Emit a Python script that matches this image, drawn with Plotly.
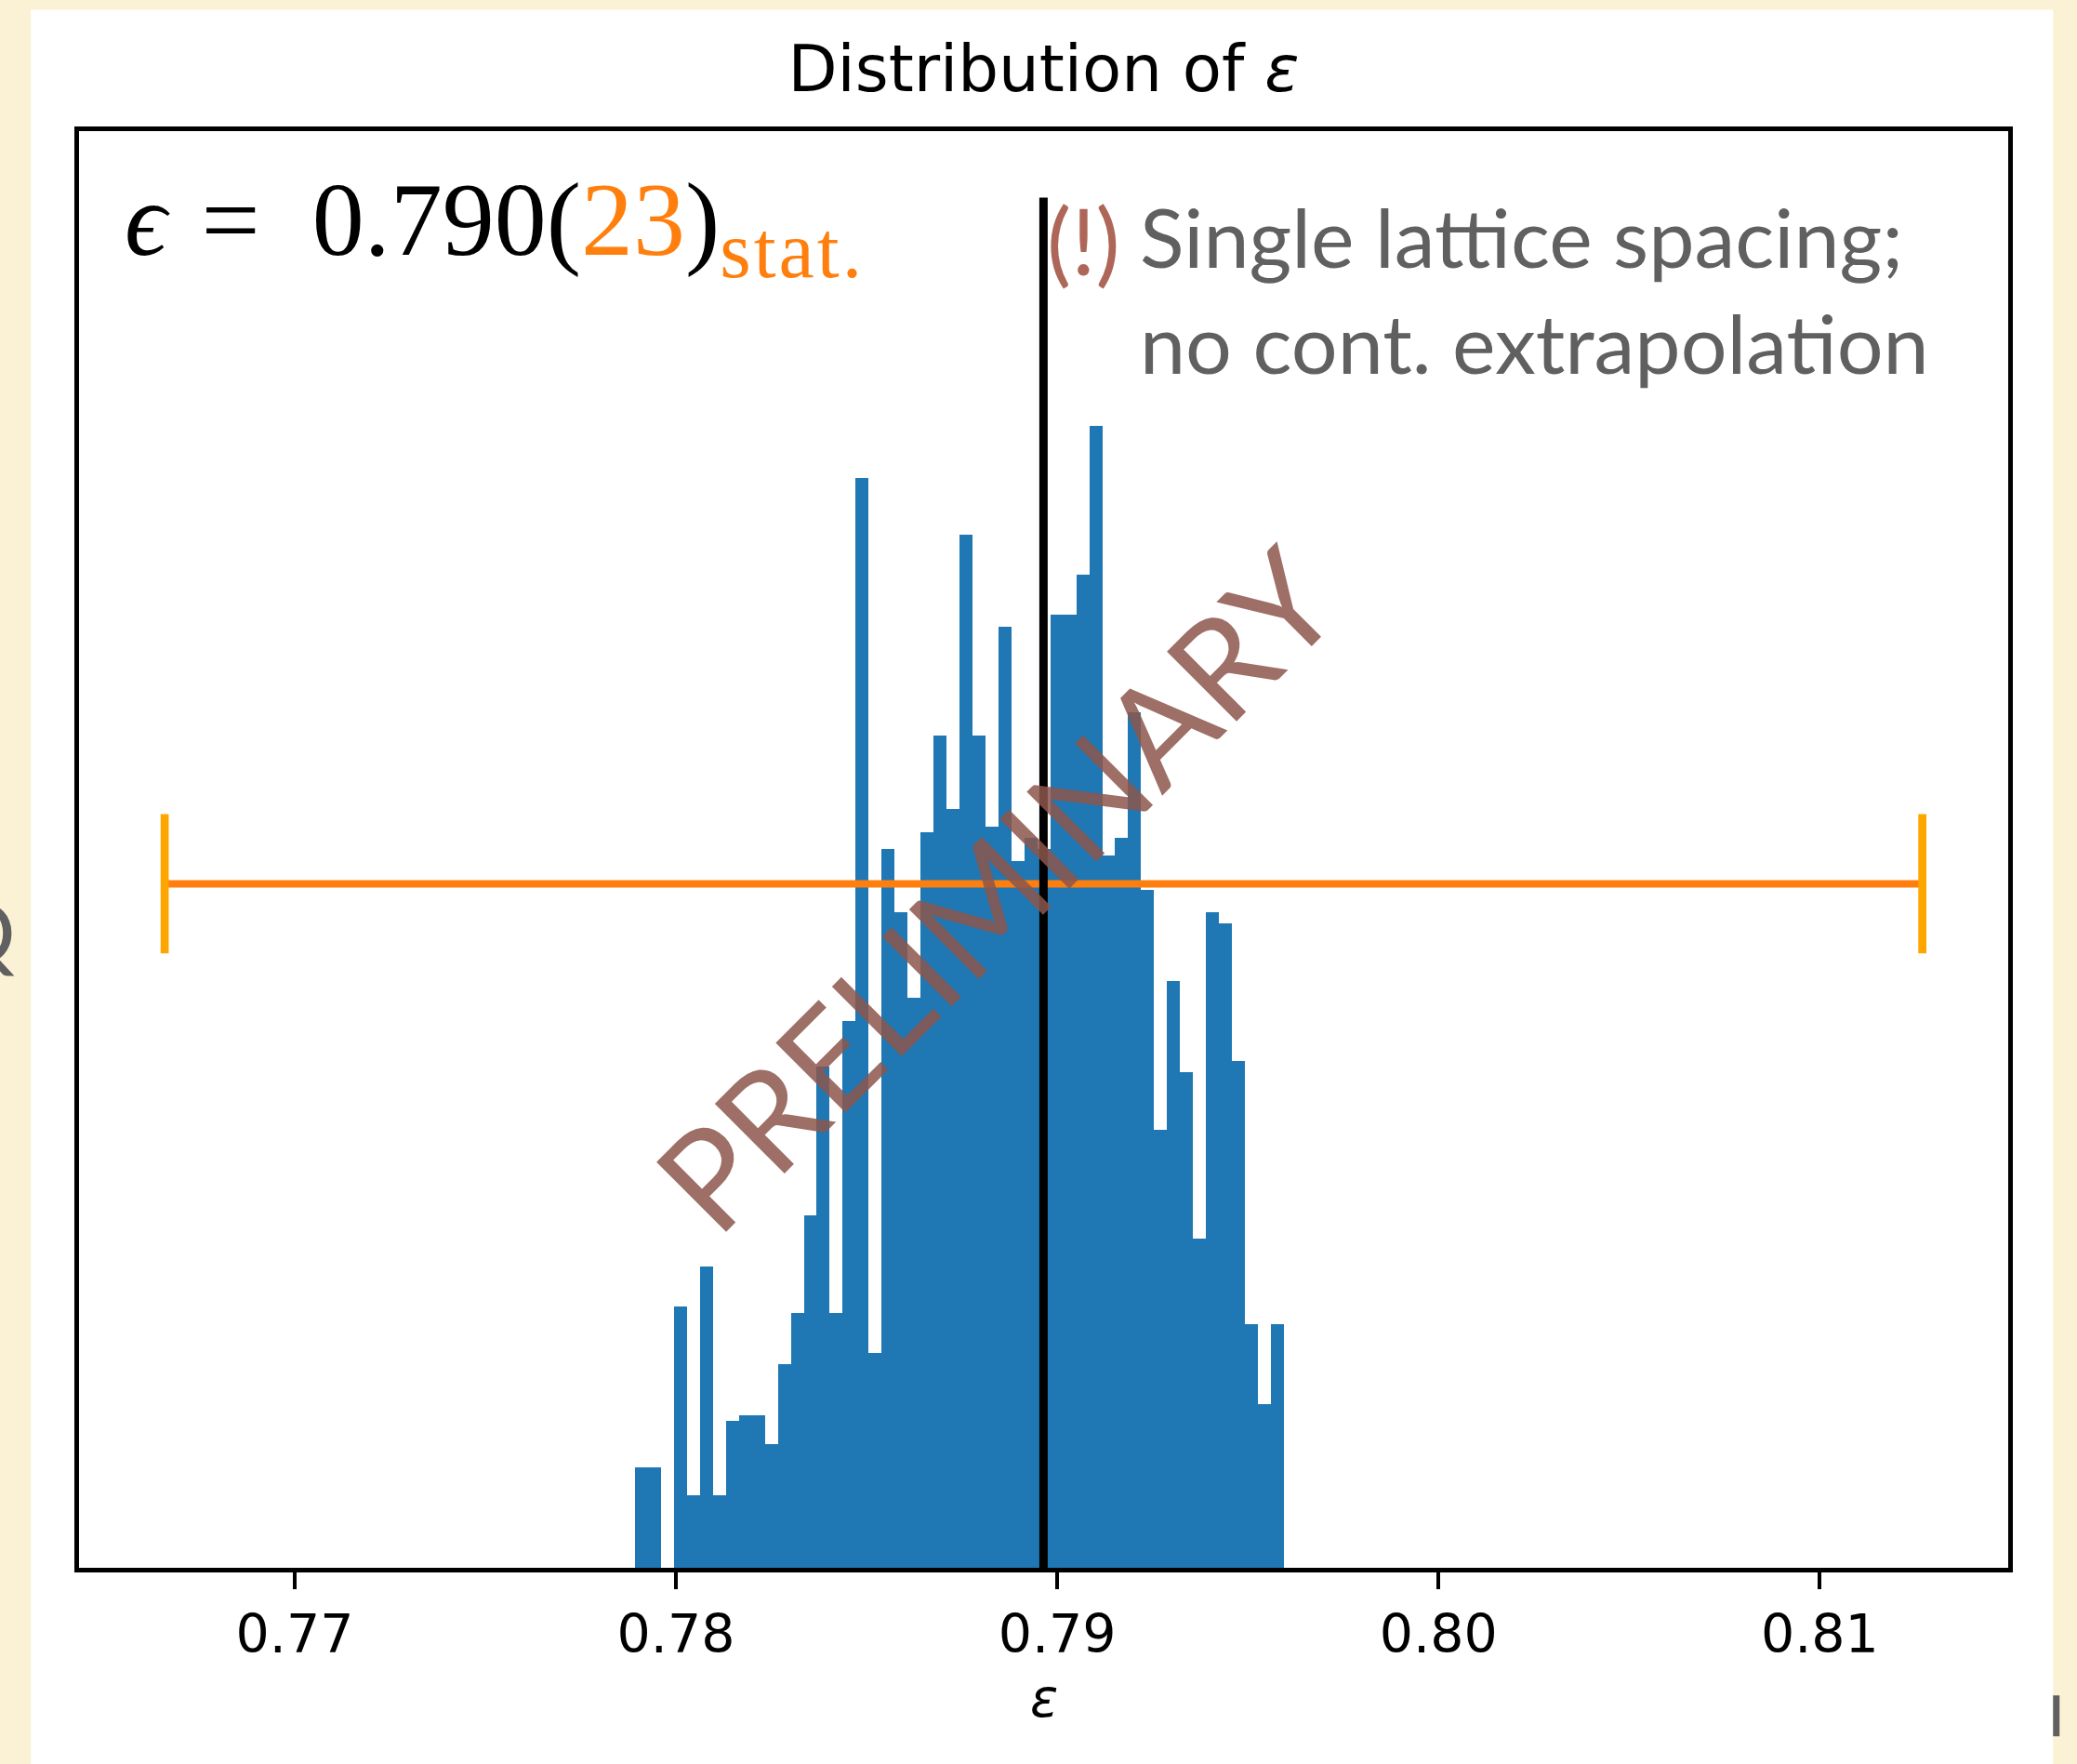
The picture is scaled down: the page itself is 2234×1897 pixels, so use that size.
import numpy as np
import plotly.graph_objects as go

# ---------------- data ----------------
counts = [18, 18, 0, 46, 13, 53, 13, 26, 27, 27,
          22, 36, 45, 62, 88, 45, 96, 191, 38, 126,
          115, 100, 129, 146, 133, 181, 146, 130, 165, 124,
          128, 126, 167, 167, 174, 200, 125, 128, 150, 119,
          77, 103, 87, 58, 115, 113, 89, 43, 29, 43]
bin_lo = 0.778927
bin_hi = 0.795945
eps_mean = 0.78964
eps_err = 0.02305
err_level = 120
vline_top = 240
x_tickvals = [0.77, 0.78, 0.79, 0.80, 0.81]
x_ticktext = ["0.77", "0.78", "0.79", "0.80", "0.81"]

# ---------------- geometry ----------------
W, H = 2234, 1897
L, R, T, B = 84.75, 74.25, 140.5, 211.25
pw, ph = W - L - R, H - T - B


def px(xp):
    return (xp - L) / pw


def py(yp):
    return (H - B - yp) / ph


edges = np.linspace(bin_lo, bin_hi, len(counts) + 1)
centers = 0.5 * (edges[:-1] + edges[1:])
widths = np.diff(edges)

fig = go.Figure()
fig.add_trace(go.Bar(x=centers, y=counts, width=widths,
                     marker=dict(color="#1f77b4", line=dict(width=0)),
                     showlegend=False, hoverinfo="skip"))

x_lo, x_hi = eps_mean - eps_err, eps_mean + eps_err
fig.add_trace(go.Scatter(x=[x_lo, x_hi], y=[err_level, err_level], mode="lines",
                         line=dict(color="#ff7f0e", width=8),
                         showlegend=False, hoverinfo="skip"))
fig.add_trace(go.Scatter(x=[x_lo, x_hi], y=[err_level, err_level], mode="markers",
                         marker=dict(symbol="line-ns", size=107,
                                     line=dict(color="#ffa500", width=8.7)),
                         showlegend=False, hoverinfo="skip"))

# vertical line at mean
fig.add_shape(type="line", xref="x", yref="y", x0=eps_mean, x1=eps_mean,
              y0=0, y1=vline_top, line=dict(color="black", width=9), layer="above")

# white figure box and slide artefacts
fig.add_shape(type="rect", xref="paper", yref="paper",
              x0=px(33), x1=px(2208), y0=py(1960), y1=py(10),
              fillcolor="white", line=dict(width=0), layer="below")
fig.add_shape(type="rect", xref="paper", yref="paper",
              x0=px(2208), x1=px(2215), y0=py(1867), y1=py(1823),
              fillcolor="#606060", line=dict(width=0), layer="below")

ann = []
ann.append(dict(text="Q", xref="paper", yref="paper", x=px(19), y=py(1000),
                xanchor="right", yanchor="middle", showarrow=False,
                font=dict(family="Lato", size=92, color="#606060")))
ann.append(dict(text="<i>ϵ</i>\u2004=\u20020.790(<span style='color:#ff7f0e'>23</span>)"
                     "<sub><span style='color:#ff7f0e;font-size:86px;letter-spacing:3px'>stat.</span></sub>",
                xref="paper", yref="paper", x=px(132), y=py(245),
                xanchor="left", yanchor="middle", showarrow=False,
                font=dict(family="Liberation Serif, DejaVu Serif", size=112, color="black")))
ann.append(dict(text="(!)", xref="paper", yref="paper", x=px(1124), y=py(258),
                xanchor="left", yanchor="middle", showarrow=False,
                font=dict(family="Lato", size=98, color="#ad6658")))
ann.append(dict(text="Single lattice spacing;<br>no cont. extrapolation",
                xref="paper", yref="paper", x=px(1224), y=py(311),
                xanchor="left", yanchor="middle", showarrow=False, align="left",
                font=dict(family="Lato", size=88, color="#606060")))
ann.append(dict(text="PRELIMINARY", xref="paper", yref="paper", x=px(1070), y=py(955),
                xanchor="center", yanchor="middle", showarrow=False, textangle=-45,
                font=dict(family="Lato", size=148, color="rgba(140,86,75,0.85)")))
ann.append(dict(text="<i>ε</i>", xref="paper", yref="paper", x=0.5, y=py(1826),
                xanchor="center", yanchor="middle", showarrow=False,
                font=dict(family="DejaVu Sans", size=56, color="black")))

fig.update_layout(
    width=W, height=H,
    margin=dict(l=L, r=R, t=T, b=B, pad=0),
    paper_bgcolor="#fbf2d5", plot_bgcolor="white",
    bargap=0,
    title=dict(text="Distribution of <i>ε</i>", x=0.5, xref="paper",
               y=1 - 74 / H, yref="container", xanchor="center", yanchor="middle",
               font=dict(family="DejaVu Sans", size=69, color="black")),
    annotations=ann,
    xaxis=dict(range=[0.764344, 0.814942], tickvals=x_tickvals, ticktext=x_ticktext,
               ticks="outside", ticklen=18, tickwidth=4.3, tickcolor="black",
               tickfont=dict(family="DejaVu Sans", size=57, color="black"),
               showline=True, linecolor="black", linewidth=4.5, mirror=True,
               showgrid=False, zeroline=False),
    yaxis=dict(range=[0.366, 251.63], showticklabels=False, ticks="",
               showline=True, linecolor="black", linewidth=4.5, mirror=True,
               showgrid=False, zeroline=False),
)

fig.write_html("out.html")
